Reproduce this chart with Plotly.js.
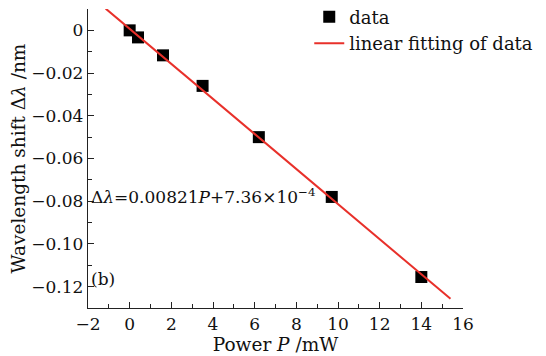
<!DOCTYPE html>
<html><head><meta charset="utf-8">
<script src="https://cdn.plot.ly/plotly-3.0.1.min.js"></script>
<style>body{margin:0;background:#fff}#c{width:546px;height:356px}</style>
</head><body><div id="c"></div>
<script>
var powerP = [0, 0.4, 1.6, 3.5, 6.2, 9.7, 14.0];
var shift = [0, -0.0033, -0.0117, -0.026, -0.050, -0.078, -0.1155];
var fitSlope = -0.00821, fitIntercept = 7.36e-4;
var fitX = [-1.15, 15.4];
var fitY = fitX.map(function(x){return fitSlope*x + fitIntercept;});
var xTicks = [-2,0,2,4,6,8,10,12,14,16];
var xTickText = ['\u22122','0','2','4','6','8','10','12','14','16'];
var yTicks = [0,-0.02,-0.04,-0.06,-0.08,-0.10,-0.12];
var yTickText = ['0','\u22120.02','\u22120.04','\u22120.06','\u22120.08','\u22120.10','\u22120.12'];
var F = 'Century Schoolbook, "DejaVu Serif", serif';
var data = [
  {x: powerP, y: shift, mode:'markers', type:'scatter', name:'data',
   marker:{symbol:'square', size:12, color:'#000'}},
  {x: fitX, y: fitY, mode:'lines', type:'scatter', name:'linear fitting of data',
   line:{color:'#e8302a', width:2}}
];
var layout = {
  width:546, height:356,
  margin:{l:88, r:83, t:9, b:48, autoexpand:false},
  paper_bgcolor:'#fff', plot_bgcolor:'#fff',
  font:{family:F, size:17, color:'#111'},
  showlegend:true,
  legend:{x:0.59, y:1.035, xanchor:'left', yanchor:'top', bgcolor:'rgba(0,0,0,0)',
    font:{family:F, size:18}, tracegroupgap:0, itemwidth:30},
  xaxis:{range:[-2,16], tickvals:xTicks, ticktext:xTickText, ticks:'inside', ticklen:6,
    tickfont:{family:F, size:17},
    tickcolor:'#222', showline:true, linecolor:'#222', linewidth:1.3, zeroline:false, showgrid:false,
    minor:{dtick:1, ticks:'inside', ticklen:4, tickcolor:'#222', showgrid:false},
    title:{text:'Power <i>P</i> /mW', font:{family:F, size:18.5}, standoff:3}},
  yaxis:{range:[-0.13,0.01], tickvals:yTicks, ticktext:yTickText, ticks:'inside', ticklen:6,
    tickfont:{family:F, size:17},
    tickcolor:'#222', showline:true, linecolor:'#222', linewidth:1.3, zeroline:false, showgrid:false,
    minor:{dtick:0.01, ticks:'inside', ticklen:4, tickcolor:'#222', showgrid:false},
    title:{text:'Wavelength shift \u0394<i>\u03bb</i> /nm', font:{family:F, size:18.5}, standoff:0}},
  annotations:[
    {xref:'paper', yref:'y', x:0.003, y:-0.0775, xanchor:'left', yanchor:'middle', showarrow:false,
     text:'\u0394<i>\u03bb</i>=0.00821<i>P</i>+7.36\u00d710<sup>\u22124</sup>', font:{family:F, size:17}},
    {xref:'paper', yref:'y', x:0.003, y:-0.1165, xanchor:'left', yanchor:'middle', showarrow:false,
     text:'(b)', font:{family:F, size:17}}
  ]
};
Plotly.newPlot('c', data, layout, {displayModeBar:false, staticPlot:true});
</script></body></html>
